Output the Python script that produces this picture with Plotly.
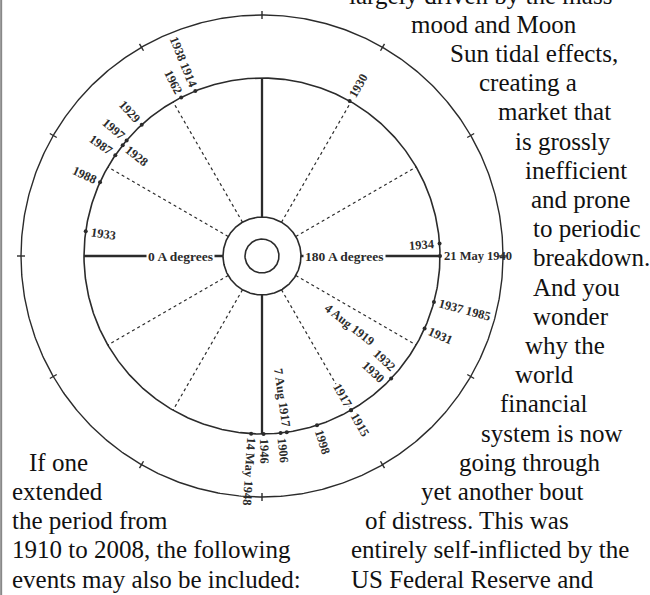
import numpy as np
import plotly.graph_objects as go

# ---------------- data ----------------
# Event labels on the cycle wheel, their position in "A degrees"
# (0 = left / west, 90 = top, 180 = right / east, 270 = bottom) and the ring band.
EVENT_LABELS = ["1938 1914", "1962", "1929", "1997", "1987", "1928", "1988", "1933",
                "1930", "1934", "21 May 1940", "1937 1985", "1931", "4 Aug 1919",
                "1932<br>1930", "1917", "1915", "1998", "7 Aug 1917", "1906", "1946",
                "14 May 1948"]
EVENT_DEGREES = [68, 63, 47.5, 40.5, 34.5, 38.5, 24.5, 8,
                 119.5, 176, 180, 195, 204, 218,
                 223.5, 240, 240, 252, 262, 264, 269.5,
                 273.5]
EVENT_RINGS = ["outer", "outer", "outer", "outer", "outer", "inner", "outer", "inner",
               "outer", "inner", "outer", "outer", "outer", "deep",
               "inner", "inner", "outer", "outer", "inner", "outer", "outer",
               "outer"]

SPOKE_DEGREES = [0, 30, 60, 90, 120, 150, 180, 210, 240, 270, 300, 330]
SOLID_SPOKES = [0, 90, 180, 270]
AXIS_LABELS = ["0 A degrees", "180 A degrees"]
AXIS_LABEL_DEGREES = [0, 180]

BODY_RIGHT = ["largely driven by the mass", "mood and Moon", "Sun tidal effects,",
              "creating a", "market that", "is grossly", "inefficient", "and prone",
              "to periodic", "breakdown.", "And you", "wonder", "why the", "world",
              "financial", "system is now", "going through", "yet another bout",
              "of distress. This was", "entirely self-inflicted by the",
              "US Federal Reserve and"]
BODY_LEFT = ["If one", "extended", "the period from",
             "1910 to 2008, the following", "events may also be included:"]

# ---------------- layout constants ----------------
W, H = 650, 595
CX, CY = 262, 256
R_IN, R_HUB, R_MID, R_OUT = 17, 39, 178, 241
LBL_FS = 12.5
BODY_FS = 25
LINE_H = 29.2
RIGHT_INDENT = [347, 409, 448, 477, 496, 513, 523, 529, 531, 531, 531, 531, 523,
                513, 498, 479, 457, 419, 363, 349, 349]
LEFT_INDENT = [27, 10, 10, 10, 10]
INK = "#2b2b2b"


def pos(a_deg, r):
    phi = np.radians(np.asarray(a_deg, dtype=float) + 180.0)
    return CX + r * np.cos(phi), CY + r * np.sin(phi)


def text_angle(a_deg):
    phi = (a_deg + 180.0) % 360.0
    if phi > 180:
        phi -= 360
    if np.cos(np.radians(phi)) >= -0.1:
        return phi
    return phi + 180 if phi < 0 else phi - 180


def est_len(txt, fs):
    line = max(txt.split("<br>"), key=len)
    n = sum(0.25 if c == " " else (0.72 if c.isupper() else 0.5) for c in line)
    return n * fs


fig = go.Figure()

# rings
t = np.linspace(0, 360, 721)
for r, wdt in [(R_IN, 1.6), (R_HUB, 1.6), (R_MID, 1.6), (R_OUT, 1.4)]:
    x, y = pos(t, r)
    fig.add_trace(go.Scatter(x=x, y=y, mode="lines", line=dict(color=INK, width=wdt),
                             hoverinfo="skip", showlegend=False))

# spokes
sx, sy, dx, dy = [], [], [], []
for a in SPOKE_DEGREES:
    x0, y0 = pos(a, R_HUB)
    x1, y1 = pos(a, R_MID)
    if a in SOLID_SPOKES:
        sx += [x0, x1, None]; sy += [y0, y1, None]
    else:
        dx += [x0, x1, None]; dy += [y0, y1, None]
fig.add_trace(go.Scatter(x=sx, y=sy, mode="lines", line=dict(color=INK, width=2.3),
                         hoverinfo="skip", showlegend=False))
fig.add_trace(go.Scatter(x=dx, y=dy, mode="lines",
                         line=dict(color=INK, width=1.2, dash="3px,3px"),
                         hoverinfo="skip", showlegend=False))

# ticks on outer ring
tx, ty = [], []
for a in SPOKE_DEGREES:
    x0, y0 = pos(a, R_OUT - 4)
    x1, y1 = pos(a, R_OUT + 4)
    tx += [x0, x1, None]; ty += [y0, y1, None]
fig.add_trace(go.Scatter(x=tx, y=ty, mode="lines", line=dict(color=INK, width=1.4),
                         hoverinfo="skip", showlegend=False))

# dots on middle ring at event positions
dsel = [a for a, rg in zip(EVENT_DEGREES, EVENT_RINGS) if rg != "deep"]
px, py = pos(dsel, R_MID)
fig.add_trace(go.Scatter(x=px, y=py, mode="markers", marker=dict(color=INK, size=4),
                         hoverinfo="skip", showlegend=False))

annotations = []
# axis labels
for lbl, a in zip(AXIS_LABELS, AXIS_LABEL_DEGREES):
    x, y = pos(a, 82)
    annotations.append(dict(x=float(x), y=float(y), text="<b>%s</b>" % lbl,
                            showarrow=False, xanchor="center", yanchor="middle",
                            bgcolor="white", borderpad=1,
                            font=dict(family="Liberation Serif", size=13.5, color=INK)))

# event labels
for lbl, a, rg in zip(EVENT_LABELS, EVENT_DEGREES, EVENT_RINGS):
    L = est_len(lbl, LBL_FS)
    if rg == "outer":
        r = R_MID + 5 + L / 2
    elif rg == "inner":
        r = R_MID - 5 - L / 2
    else:
        r = R_MID - 37 - L / 2
    x, y = pos(a, r)
    annotations.append(dict(x=float(x), y=float(y), text="<b>%s</b>" % lbl,
                            showarrow=False, xanchor="center", yanchor="middle",
                            textangle=float(text_angle(a)),
                            bgcolor="white" if rg != "outer" else None, borderpad=0,
                            font=dict(family="Liberation Serif", size=LBL_FS, color=INK)))

# body text (paper coordinates so that the clipped first line is still drawn)
def body(line, xi, yi):
    return dict(x=xi / W, y=1 - yi / H, xref="paper", yref="paper", text=line,
                showarrow=False, xanchor="left", yanchor="middle",
                font=dict(family="Liberation Serif", size=BODY_FS, color="#111"))

for i, (line, xi) in enumerate(zip(BODY_RIGHT, RIGHT_INDENT)):
    annotations.append(body(line, xi, -5 + i * LINE_H))
for i, (line, xi) in enumerate(zip(BODY_LEFT, LEFT_INDENT)):
    annotations.append(body(line, xi, -5 + (16 + i) * LINE_H))

fig.update_layout(
    width=W, height=H, margin=dict(l=0, r=0, t=0, b=0),
    paper_bgcolor="white", plot_bgcolor="white",
    xaxis=dict(range=[0, W], visible=False, fixedrange=True),
    yaxis=dict(range=[H, 0], visible=False, fixedrange=True),
    annotations=annotations,
    shapes=[dict(type="line", xref="paper", yref="paper", x0=0.0018, x1=0.0018,
                 y0=0, y1=1, line=dict(color="#888", width=2))],
    showlegend=False,
)

fig.write_html("out.html", config={"displayModeBar": False},
               post_script="document.body.style.margin='0';")
